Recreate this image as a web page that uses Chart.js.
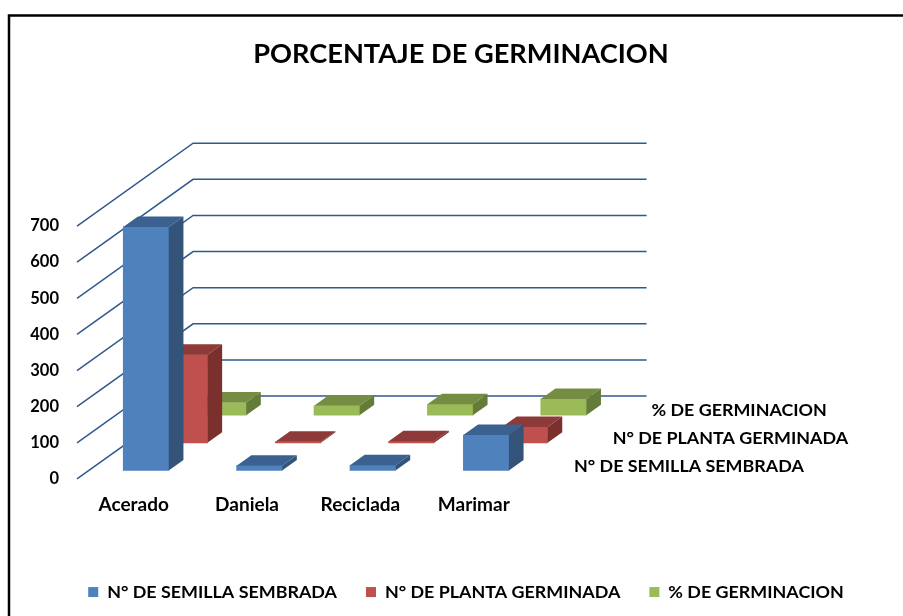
<!DOCTYPE html>
<html><head><meta charset="utf-8">
<style>html,body{margin:0;padding:0;background:#fff}#w{width:903px;height:616px;position:relative}</style>
<script src="https://cdn.jsdelivr.net/npm/chart.js@4"></script></head>
<body><div id="w"><canvas id="c" width="903" height="616"></canvas></div>
<script>
const chartTitle = 'PORCENTAJE DE GERMINACION';
const categories = ['Acerado', 'Daniela', 'Reciclada', 'Marimar'];
const seriesNames = ['N° DE SEMILLA SEMBRADA', 'N° DE PLANTA GERMINADA', '% DE GERMINACION'];
const semillaSembrada = [674, 13, 14, 98];
const plantaGerminada = [244, 3, 4, 44];
const porcGerminacion = [35, 26, 30, 45];
const frontColors = ['#4F81BD', '#C0504D', '#9BBB59'];
const topColors = ['#3A618F', '#8E3A38', '#748D42'];
const sideColors = ['#335379', '#7B302E', '#657B3A'];
const FONT = 'Lato, Carlito, sans-serif';
const STEP_X = 38.7, STEP_Y = -27.6, START_X = 12.3, START_Y = -8.5, BAR_DX = 14.7, BAR_DY = -10.5;

const depth3d = {
  id: 'depth3d',
  beforeDraw(chart) {
    const ctx = chart.ctx;
    ctx.save();
    ctx.strokeStyle = '#000'; ctx.lineWidth = 2.5;
    ctx.beginPath(); ctx.moveTo(9, 640); ctx.lineTo(9, 15.5); ctx.lineTo(903, 15.5); ctx.stroke();
    ctx.restore();
  },
  beforeDatasetsDraw(chart) {
    const {ctx, chartArea} = chart, y = chart.scales.y;
    const dx = STEP_X * 3, dy = STEP_Y * 3;
    ctx.save();
    ctx.strokeStyle = '#2F5A8C'; ctx.lineWidth = 1.5;
    y.ticks.forEach(t => {
      const p = y.getPixelForValue(t.value);
      ctx.beginPath();
      ctx.moveTo(chartArea.left, p);
      ctx.lineTo(chartArea.left + dx, p + dy);
      ctx.lineTo(chartArea.right + dx, p + dy);
      ctx.stroke();
    });
    ctx.restore();
  },
  beforeDatasetDraw(chart, args) {
    const i = args.index;
    chart.ctx.save();
    chart.ctx.translate(START_X + STEP_X * i, START_Y + STEP_Y * i);
  },
  afterDatasetDraw(chart, args) {
    const ctx = chart.ctx, i = args.index;
    args.meta.data.forEach(b => {
      const l = b.x - b.width / 2, r = b.x + b.width / 2, t = b.y, bt = b.base;
      ctx.fillStyle = topColors[i];
      ctx.beginPath(); ctx.moveTo(l, t); ctx.lineTo(l + BAR_DX, t + BAR_DY); ctx.lineTo(r + BAR_DX, t + BAR_DY); ctx.lineTo(r, t); ctx.closePath(); ctx.fill();
      ctx.fillStyle = sideColors[i];
      ctx.beginPath(); ctx.moveTo(r, t); ctx.lineTo(r + BAR_DX, t + BAR_DY); ctx.lineTo(r + BAR_DX, bt + BAR_DY); ctx.lineTo(r, bt); ctx.closePath(); ctx.fill();
    });
    ctx.restore();
  },
  afterDraw(chart) {
    const {ctx, chartArea} = chart;
    ctx.save();
    ctx.fillStyle = '#000'; ctx.font = 'bold 17.9px ' + FONT;
    ctx.textAlign = 'left'; ctx.textBaseline = 'middle';
    seriesNames.forEach((n, i) => ctx.fillText(n, chartArea.right + 43.5 + STEP_X * i, chartArea.bottom - 13 + STEP_Y * i));
    ctx.restore();
  },
  afterLayout(chart) {
    chart.legend.left += 5; chart.legend.right += 5;
  }
};

new Chart(document.getElementById('c'), {
  type: 'bar',
  data: {
    labels: categories,
    datasets: [semillaSembrada, plantaGerminada, porcGerminacion].map((d, i) => ({
      label: seriesNames[i], data: d, backgroundColor: frontColors[i], borderWidth: 0,
      grouped: false, barThickness: 45.5, clip: false
    }))
  },
  options: {
    responsive: false, animation: false,
    layout: {padding: {left: 19, top: 0, right: 0, bottom: 5}},
    plugins: {
      tooltip: {enabled: false},
      title: {display: true, text: chartTitle, color: '#000', font: {family: FONT, size: 27.2, weight: 'bold'}, padding: {top: 37.5, bottom: 155.9}},
      legend: {position: 'bottom', labels: {boxWidth: 10, boxHeight: 10, padding: 29, color: '#000', font: {family: FONT, size: 17.9, weight: 'bold'}}}
    },
    scales: {
      x: {grid: {display: false, drawTicks: false}, border: {display: false},
          ticks: {color: '#000', padding: 15, autoSkip: false, maxRotation: 0, font: {family: FONT, size: 19, weight: 'bold'}},
          afterFit(s) { s.height = 75.2; }},
      y: {min: 0, max: 700, grid: {display: false, drawTicks: false}, border: {display: false},
          ticks: {stepSize: 100, color: '#000', padding: 18, font: {family: FONT, size: 16.5, weight: 'bold'}},
          afterFit(s) { s.width = 58; }},
      y2: {position: 'right', display: true, grid: {display: false}, border: {display: false}, ticks: {display: false},
          afterFit(s) { s.width = 372.5; }}
    }
  },
  plugins: [depth3d]
});
</script></body></html>
